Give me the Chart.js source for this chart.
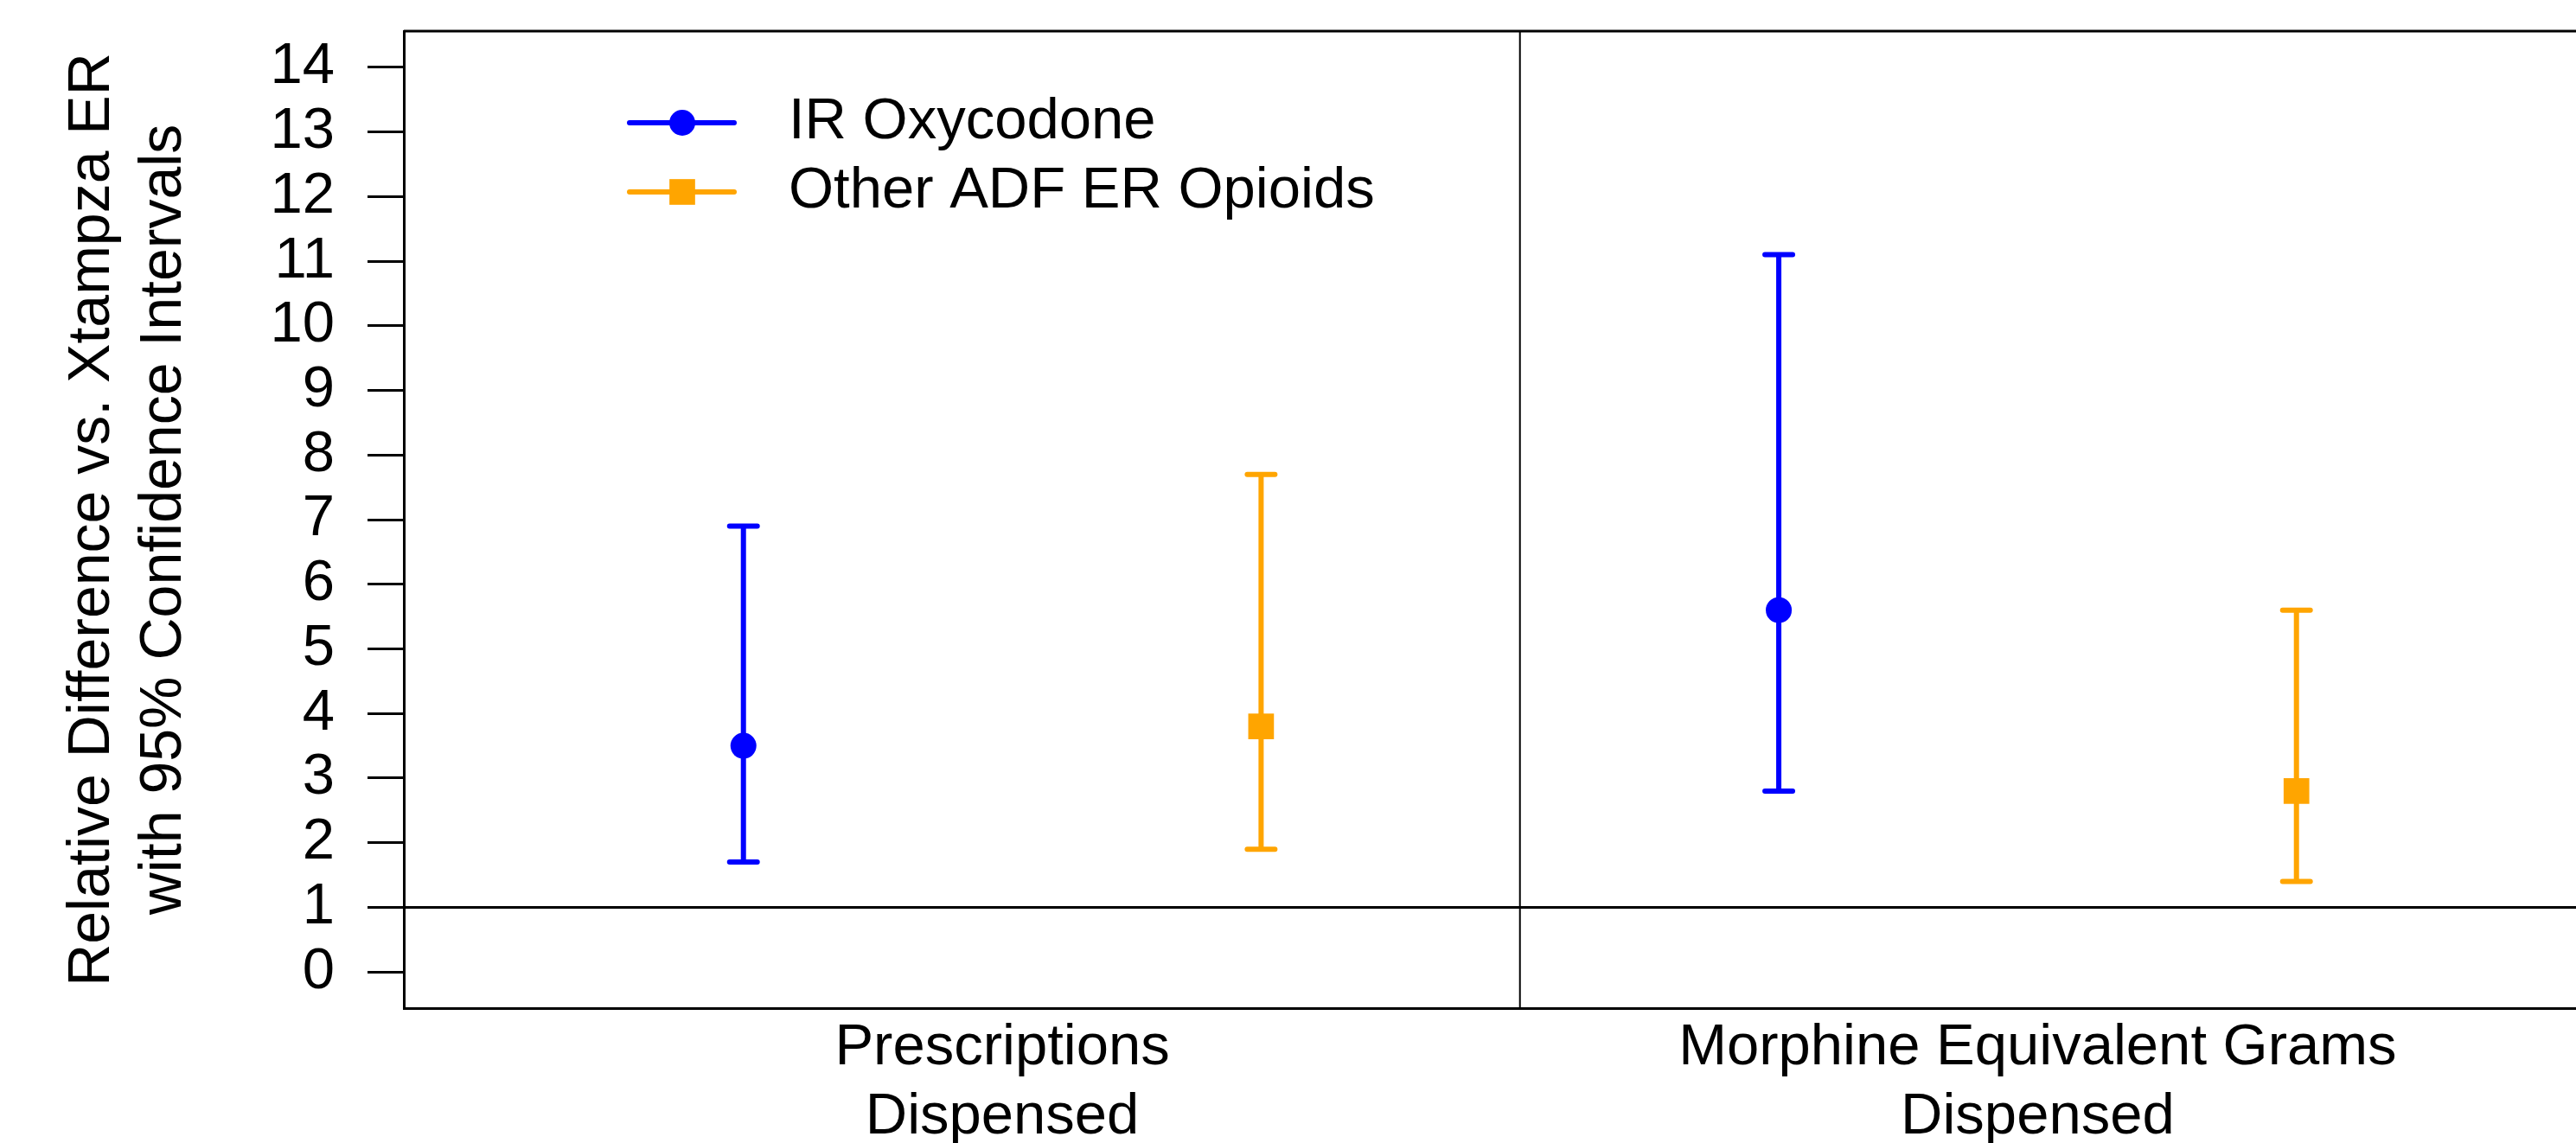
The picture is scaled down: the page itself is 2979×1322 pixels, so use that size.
<!DOCTYPE html>
<html>
<head>
<meta charset="utf-8">
<script src="https://cdn.jsdelivr.net/npm/chart.js@4.4.0/dist/chart.umd.min.js"></script>
<style>
  html, body { margin: 0; padding: 0; background: #fff; overflow: hidden; }
</style>
</head>
<body>
<canvas id="chart" width="2979" height="1322"></canvas>
<script>
const categories = [[`Prescriptions`, `Dispensed`], [`Morphine Equivalent Grams`, `Dispensed`]];
const categoryPos = [1, 2];
const seriesNames = [`IR Oxycodone`, `Other ADF ER Opioids`];
const seriesOffsets = [-0.25, 0.25];
const irEstimate = [3.5, 5.6];
const irLower = [1.7, 2.8];
const irUpper = [6.9, 11.1];
const adfEstimate = [3.8, 2.8];
const adfLower = [1.9, 1.4];
const adfUpper = [7.7, 5.6];
const yTicks = [0, 1, 2, 3, 4, 5, 6, 7, 8, 9, 10, 11, 12, 13, 14];
const referenceValue = 1;
const dividerPos = 1.5;

const FONT = `"Liberation Sans", Arial, sans-serif`;
const BLUE = `#0000ff`;
const ORANGE = `#ffa500`;

const toPoints = (est, offset) => est.map((v, i) => ({x: categoryPos[i] + offset, y: v}));

const noPadding = (s) => {
  s.paddingTop = 0;
  s.paddingBottom = 0;
  s.paddingLeft = 0;
  s.paddingRight = 0;
};

// reference lines, top border and the confidence interval whiskers
const errorBars = {
  id: `errorBars`,
  beforeDatasetsDraw(chart) {
    const {ctx, chartArea, scales: {x, y}} = chart;
    ctx.save();
    ctx.strokeStyle = `#000`;
    ctx.lineWidth = 3;
    ctx.beginPath();
    const yRef = y.getPixelForValue(referenceValue);
    ctx.moveTo(chartArea.left - 42, yRef);
    ctx.lineTo(chartArea.right, yRef);
    ctx.moveTo(chartArea.left, chartArea.top);
    ctx.lineTo(chartArea.right, chartArea.top);
    ctx.stroke();
    ctx.lineWidth = 2;
    ctx.beginPath();
    const xd = x.getPixelForValue(dividerPos);
    ctx.moveTo(xd, chartArea.top);
    ctx.lineTo(xd, chartArea.bottom);
    ctx.stroke();

    ctx.lineCap = `round`;
    ctx.lineWidth = 6;
    chart.data.datasets.forEach((ds) => {
      ctx.strokeStyle = ds.borderColor;
      ds.data.forEach((p, i) => {
        const px = x.getPixelForValue(p.x);
        const lo = y.getPixelForValue(ds.lower[i]);
        const hi = y.getPixelForValue(ds.upper[i]);
        ctx.beginPath();
        ctx.moveTo(px, lo);
        ctx.lineTo(px, hi);
        ctx.moveTo(px - 16, lo);
        ctx.lineTo(px + 16, lo);
        ctx.moveTo(px - 16, hi);
        ctx.lineTo(px + 16, hi);
        ctx.stroke();
      });
    });
    ctx.restore();
  },
  afterDraw(chart) {
    const {ctx} = chart;
    ctx.save();
    const rows = [142, 222];
    chart.data.datasets.forEach((ds, i) => {
      const cy = rows[i];
      ctx.strokeStyle = ds.borderColor;
      ctx.fillStyle = ds.backgroundColor;
      ctx.lineWidth = 6;
      ctx.lineCap = `round`;
      ctx.beginPath();
      ctx.moveTo(728, cy);
      ctx.lineTo(849, cy);
      ctx.stroke();
      Chart.helpers.drawPoint(ctx, {pointStyle: ds.pointStyle, radius: ds.pointRadius, borderWidth: 0}, 789, cy);
      ctx.fillStyle = `#000`;
      ctx.font = `67px ${FONT}`;
      ctx.textBaseline = `middle`;
      ctx.textAlign = `left`;
      ctx.fillText(ds.label, 912, cy);
    });
    ctx.restore();
  }
};

// eslint-disable-next-line no-unused-vars
const chart = new Chart(document.getElementById(`chart`), {
  type: `scatter`,
  data: {
    datasets: [{
      label: seriesNames[0],
      data: toPoints(irEstimate, seriesOffsets[0]),
      lower: irLower,
      upper: irUpper,
      borderColor: BLUE,
      backgroundColor: BLUE,
      pointStyle: `circle`,
      pointRadius: 15,
      borderWidth: 0
    }, {
      label: seriesNames[1],
      data: toPoints(adfEstimate, seriesOffsets[1]),
      lower: adfLower,
      upper: adfUpper,
      borderColor: ORANGE,
      backgroundColor: ORANGE,
      pointStyle: `rect`,
      pointRadius: 21,
      borderWidth: 0
    }]
  },
  options: {
    responsive: false,
    animation: false,
    devicePixelRatio: 1,
    layout: {autoPadding: false, padding: {top: 36, right: 0, bottom: 0, left: 0}},
    plugins: {legend: {display: false}, tooltip: {enabled: false}},
    scales: {
      x: {
        type: `linear`,
        min: 0.422,
        max: 2.52,
        afterBuildTicks: (s) => { s.ticks = categoryPos.map((v) => ({value: v})); },
        afterFit: (s) => { s.height = 156; noPadding(s); },
        ticks: {
          callback: (v, i) => categories[i],
          font: {family: FONT, size: 67, lineHeight: 1.2},
          color: `#000`,
          padding: 6,
          maxRotation: 0,
          autoSkip: false
        },
        grid: {display: false, drawTicks: false},
        border: {display: true, color: `#000`, width: 3}
      },
      y: {
        type: `linear`,
        min: -0.56,
        max: 14.56,
        afterBuildTicks: (s) => { s.ticks = yTicks.map((v) => ({value: v})); },
        afterFit: (s) => { s.width = 467; noPadding(s); },
        ticks: {
          font: {family: FONT, size: 67},
          color: `#000`,
          padding: 38,
          autoSkip: false
        },
        grid: {drawOnChartArea: false, drawTicks: true, tickLength: 42, tickWidth: 3, tickColor: `#000`},
        border: {display: true, color: `#000`, width: 3},
        title: {
          display: true,
          text: [`Relative Difference vs. Xtampza ER`, `with 95% Confidence Intervals`],
          font: {family: FONT, size: 68, lineHeight: 1.22},
          color: `#000`,
          padding: {top: 66, bottom: 0}
        }
      }
    }
  },
  plugins: [errorBars]
});
</script>
</body>
</html>
